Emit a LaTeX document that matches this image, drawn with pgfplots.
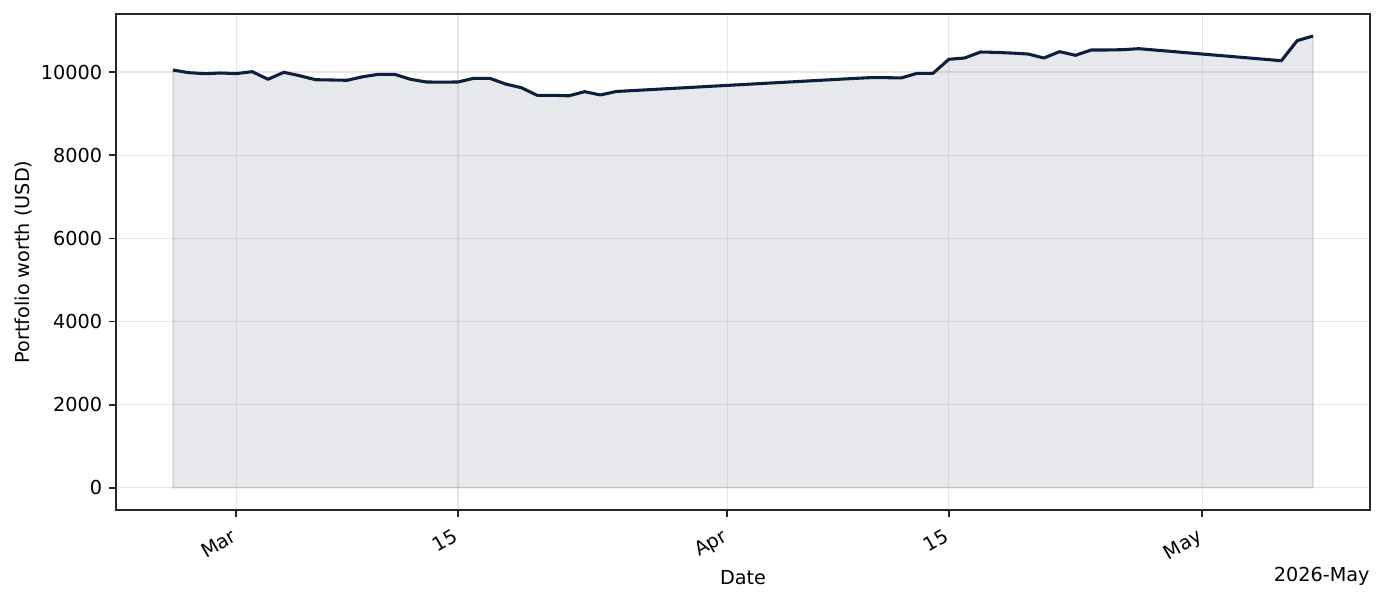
\documentclass[border=0pt]{standalone}
\usepackage{pgfplots}
\pgfplotsset{compat=1.18}
\usepackage{pgfplotstable}
\usepackage{fontspec}
\setmainfont{DejaVu Sans}
\setsansfont{DejaVu Sans}

\definecolor{navy}{HTML}{0E1F3D}
\definecolor{gridgray}{HTML}{B0B0B0}
\definecolor{spine}{HTML}{262626}

% day 0 = 2026-03-01
\pgfplotstableread{
day value
-4 10048
-3 9984
-2 9960
-1 9976
0 9962
1 10008
2 9825
3 9993
4 9911
5 9815
6 9808
7 9801
8 9888
9 9945
10 9945
11 9825
12 9760
13 9757
14 9760
15 9849
16 9849
17 9712
18 9623
19 9440
20 9440
21 9428
22 9527
23 9448
24 9532
39 9845
40 9864
41 9864
42 9858
43 9969
44 9969
45 10306
46 10337
47 10481
48 10472
49 10455
50 10433
51 10337
52 10489
53 10402
54 10530
55 10530
56 10537
57 10561
66 10272
67 10753
68 10866
}\worth

\begin{document}
\begin{tikzpicture}
\begin{axis}[
    scale only axis,
    width=651.9pt, height=257.8pt,
    xmin=-7.6, xmax=71.6,
    ymin=-530, ymax=11394,
    axis line style={spine, line width=0.9pt},
    every tick/.style={spine, line width=0.9pt},
    tick align=outside, major tick length=3.5pt,
    xtick pos=bottom, ytick pos=left,
    xtick={0,14,31,45,61},
    xticklabels={Mar,15,Apr,15,May},
    ytick={0,2000,...,10000},
    scaled y ticks=false,
    yticklabel style={/pgf/number format/1000 sep={}},
    /pgf/number format/assume math mode=true,
    ticklabel style={font=\fontsize{10}{12}\selectfont, text=black},
    xticklabel style={rotate=30, anchor=north east, inner sep=1pt, xshift=-4.4pt, yshift=-2.45pt},
    yticklabel style={inner sep=1pt, xshift=-2.5pt},
    grid=major,
    major grid style={gridgray, opacity=0.3, line width=0.6pt},
    xlabel={Date},
    ylabel={Portfolio worth (USD)},
    label style={font=\fontsize{10}{12}\selectfont},
    every axis x label/.style={at={(rel axis cs:0.5,0)}, anchor=center, yshift=-35.4pt},
    every axis y label/.style={at={(rel axis cs:0,0.5)}, anchor=center, rotate=90, yshift=48.3pt},
    clip=false,
]
\addplot[fill=navy, fill opacity=0.1, draw=navy, draw opacity=0.1, line width=0.8pt]
    table[x=day, y=value] {\worth} \closedcycle;
\addplot[navy, line width=1.6pt, line join=round, no marks]
    table[x=day, y=value] {\worth};
\node[anchor=east, inner sep=0pt, font=\fontsize{10}{12}\selectfont]
    at (rel axis cs:1,0) [yshift=-34.3pt] {2026-May};
\end{axis}
\path (-60.3pt,-47.9pt) rectangle (659.7pt,265.1pt);
\end{tikzpicture}
\end{document}
